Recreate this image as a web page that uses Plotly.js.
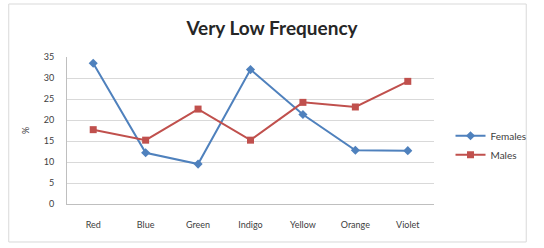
<!DOCTYPE html>
<html>
<head>
<meta charset="utf-8">
<script src="https://cdn.plot.ly/plotly-3.0.1.min.js"></script>
<style>html,body{margin:0;padding:0;background:#fff;}#chart{width:544px;height:248px;}</style>
</head>
<body>
<div id="chart"></div>
<script>
const categories = ["Red", "Blue", "Green", "Indigo", "Yellow", "Orange", "Violet"];
const females = [33.5, 12.2, 9.5, 32, 21.3, 12.8, 12.7];
const males = [17.7, 15.2, 22.6, 15.2, 24.2, 23.1, 29.2];
const yTicks = [0, 5, 10, 15, 20, 25, 30, 35];

const traces = [
  {x: categories, y: females, name: "Females", type: "scatter", mode: "lines+markers",
   line: {color: "#4F81BD", width: 2}, marker: {symbol: "diamond", size: 7, color: "#4F81BD"}},
  {x: categories, y: males, name: "Males", type: "scatter", mode: "lines+markers",
   line: {color: "#C0504D", width: 2}, marker: {symbol: "square", size: 7, color: "#C0504D"}}
];

const layout = {
  width: 544, height: 248,
  margin: {l: 67, r: 99, t: 57, b: 44, pad: 0},
  paper_bgcolor: "#fff", plot_bgcolor: "#fff",
  font: {family: "Lato, 'Open Sans', sans-serif", size: 9, color: "#404040"},
  title: {text: "<b>Very Low Frequency</b>", x: 0.5, xref: "container", xanchor: "center", y: 0.885, yanchor: "middle",
          font: {size: 19, color: "#262626", family: "Lato, 'Open Sans', sans-serif"}},
  xaxis: {type: "category", range: [-0.5, 6.5], showgrid: false, showline: true, linecolor: "#bfbfbf",
          ticks: "", ticklabelstandoff: 12, tickfont: {size: 9, color: "#404040"}, fixedrange: true},
  yaxis: {range: [0, 35], tickvals: yTicks, showgrid: true, gridcolor: "#d9d9d9", showline: true, linecolor: "#bfbfbf",
          zeroline: false, ticks: "", ticklabelstandoff: 10, tickfont: {size: 9, color: "#404040"},
          title: {text: "%", standoff: 12, font: {size: 9, color: "#404040"}}, fixedrange: true},
  showlegend: true,
  legend: {x: 1.045, xanchor: "left", y: 0.40, yanchor: "middle", bgcolor: "rgba(0,0,0,0)",
           font: {size: 10, color: "#404040"}, itemwidth: 30, tracegroupgap: 0},
  shapes: [{type: "rect", xref: "paper", yref: "paper", x0: -0.1587, x1: 1.2513, y0: -0.2585, y1: 1.3605,
            line: {color: "#d9d9d9", width: 1}, fillcolor: "rgba(0,0,0,0)", layer: "below"}]
};

Plotly.newPlot("chart", traces, layout, {displayModeBar: false, staticPlot: true});
</script>
</body>
</html>
